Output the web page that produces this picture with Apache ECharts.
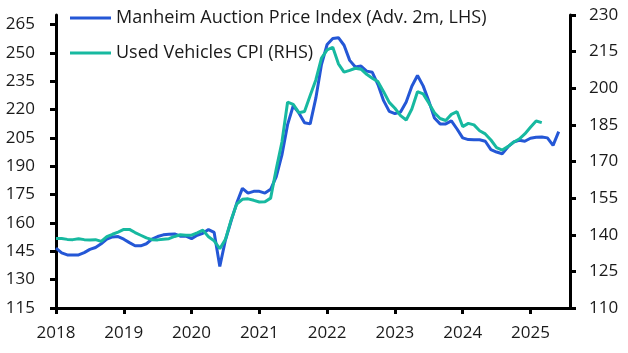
<!DOCTYPE html>
<html>
<head>
<meta charset="utf-8">
<script src="https://cdn.jsdelivr.net/npm/echarts@6/dist/echarts.min.js"></script>
<style>
html,body{margin:0;padding:0;background:#fff;}
#chart{width:628px;height:353px;}
</style>
</head>
<body>
<div id="chart"></div>
<script>
// Monthly data, Jan 2018 onward (index 0 = Jan 2018)
const yearLabels = ['2018','2019','2020','2021','2022','2023','2024','2025'];
const leftTicks = [115,130,145,160,175,190,205,220,235,250,265];
const rightTicks = [110,125,140,155,170,185,200,215,230];

const manheimName = 'Manheim Auction Price Index (Adv. 2m, LHS)';
const cpiName = 'Used Vehicles CPI (RHS)';

const manheim = [
  146.7,144.2,143.1,143.0,143.1,144.3,146.0,147.0,149.0,151.4,152.6,152.8,
  151.4,149.6,147.9,147.9,149.0,151.4,152.8,153.7,154.0,154.2,153.0,153.0,
  151.7,153.5,154.5,156.5,155.0,137.0,151.0,161.0,170.5,178.3,175.8,176.7,
  176.7,175.8,177.8,184.5,196.0,212.0,222.0,218.2,213.0,212.4,226.0,243.8,
  254.4,257.6,258.0,254.0,246.0,242.5,243.0,240.3,239.7,233.2,224.7,219.0,
  217.8,218.7,224.0,232.3,238.0,232.5,224.5,215.5,212.4,212.4,214.0,209.7,
  205.0,204.1,204.0,204.0,203.2,198.8,197.5,196.6,200.2,202.8,203.7,203.2,
  204.8,205.3,205.5,205.0,201.0,208.3
];

const usedCpi = [
  138.5,138.5,138.1,138.0,138.4,138.0,137.9,138.0,137.3,139.2,140.2,141.1,
  142.2,142.2,140.9,139.8,138.7,138.0,137.9,138.2,138.4,139.3,140.0,139.8,
  139.8,140.8,141.9,139.2,137.5,134.3,138.1,146.0,152.6,154.5,154.7,154.1,
  153.4,153.5,155.0,167.0,178.0,194.3,193.4,190.0,190.5,197.0,203.4,212.3,
  215.7,216.8,210.0,206.6,207.3,208.2,207.8,205.7,204.1,202.7,198.6,194.2,
  191.8,188.8,187.0,191.5,198.6,197.7,194.0,190.0,187.6,186.8,189.3,190.4,
  184.3,185.6,185.0,182.6,181.3,178.8,175.7,174.7,176.1,177.9,179.2,181.3,
  184.0,186.6,185.9
];

const xTicks = yearLabels.map((_, i) => i * 12);
const toPairs = arr => arr.map((v, i) => [i, v]);

const fontFamily = '"Open Sans", "Noto Sans", sans-serif';
const axisColor = '#000';
const labelStyle = { color: '#1a1a1a', fontSize: 17, fontFamily: fontFamily };

const chart = echarts.init(document.getElementById('chart'), null, { renderer: 'canvas' });
chart.setOption({
  animation: false,
  backgroundColor: '#fff',
  grid: { left: 56, right: 58, top: 15, bottom: 45, containLabel: false },
  legend: {
    orient: 'vertical',
    left: 70,
    top: 8,
    padding: 0,
    itemGap: 15,
    itemWidth: 41,
    itemHeight: 3,
    icon: 'rect',
    textStyle: { color: '#1a1a1a', fontSize: 18, fontFamily: fontFamily, lineHeight: 20 },
    data: [manheimName, cpiName]
  },
  xAxis: {
    type: 'value',
    min: 0,
    max: 91,
    axisLine: { show: true, lineStyle: { color: axisColor, width: 3 } },
    axisTick: { show: true, length: 6, lineStyle: { color: axisColor, width: 3 }, customValues: xTicks },
    axisLabel: Object.assign({ margin: 17, customValues: xTicks,
      formatter: v => yearLabels[Math.round(v / 12)] }, labelStyle),
    splitLine: { show: false }
  },
  yAxis: [
    {
      type: 'value',
      position: 'left',
      min: 115,
      max: 270,
      axisLine: { show: true, lineStyle: { color: axisColor, width: 3 } },
      axisTick: { show: true, length: 6, lineStyle: { color: axisColor, width: 3 }, customValues: leftTicks },
      axisLabel: Object.assign({ margin: 21, customValues: leftTicks }, labelStyle),
      splitLine: { show: false }
    },
    {
      type: 'value',
      position: 'right',
      min: 110,
      max: 230,
      axisLine: { show: true, lineStyle: { color: axisColor, width: 3 } },
      axisTick: { show: true, length: 6, lineStyle: { color: axisColor, width: 3 }, customValues: rightTicks },
      axisLabel: Object.assign({ margin: 19, customValues: rightTicks }, labelStyle),
      splitLine: { show: false }
    }
  ],
  series: [
    {
      name: manheimName,
      type: 'line',
      yAxisIndex: 0,
      data: toPairs(manheim),
      showSymbol: false,
      symbol: 'none',
      lineStyle: { width: 3, color: '#2457D6' },
      itemStyle: { color: '#2457D6' }
    },
    {
      name: cpiName,
      type: 'line',
      yAxisIndex: 1,
      data: toPairs(usedCpi),
      showSymbol: false,
      symbol: 'none',
      lineStyle: { width: 3, color: '#17B9A0' },
      itemStyle: { color: '#17B9A0' }
    }
  ]
});
</script>
</body>
</html>
